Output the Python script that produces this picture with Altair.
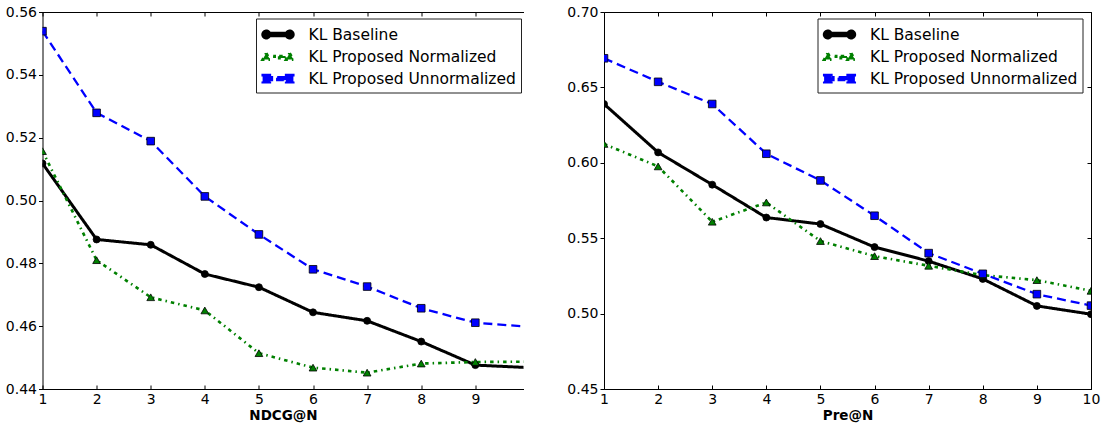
import altair as alt
import pandas as pd

# ---- data -------------------------------------------------------------
N_VALUES = [1, 2, 3, 4, 5, 6, 7, 8, 9, 10]
SERIES = ["KL Baseline", "KL Proposed Normalized", "KL Proposed Unnormalized"]

ndcg_baseline = [0.5118, 0.4876, 0.4859, 0.4766, 0.4724, 0.4644, 0.4617, 0.4551, 0.4476, 0.4468]
ndcg_normalized = [0.5157, 0.4810, 0.4692, 0.4650, 0.4514, 0.4468, 0.4452, 0.4481, 0.4486, 0.4487]
ndcg_unnormalized = [0.5539, 0.5279, 0.5189, 0.5013, 0.4892, 0.4781, 0.4726, 0.4657, 0.4611, 0.4598]

pre_baseline = [0.6390, 0.6069, 0.5855, 0.5637, 0.5594, 0.5441, 0.5348, 0.5230, 0.5051, 0.4996]
pre_normalized = [0.6125, 0.5976, 0.5609, 0.5737, 0.5481, 0.5381, 0.5317, 0.5255, 0.5222, 0.5151]
pre_unnormalized = [0.6693, 0.6537, 0.6390, 0.6060, 0.5883, 0.5649, 0.5401, 0.5264, 0.5129, 0.5053]

ndcg_y_ticks = [0.44, 0.46, 0.48, 0.50, 0.52, 0.54, 0.56]
pre_y_ticks = [0.45, 0.50, 0.55, 0.60, 0.65, 0.70]

# ---- styling ----------------------------------------------------------
COLORS = ["#000000", "#008000", "#0000ff"]
DASHES = [[1, 0], [3.5, 4, 1.5, 4], [9, 5]]
WIDTHS = [3.0, 2.3, 3.5]
MARKERS = [("circle", 49), ("triangle-up", 60), ("square", 58)]
FONT = "DejaVu Sans"
PLOT_H = 377


def circle(cx, r):
    return (f"M{cx - r},0 A{r},{r} 0 1,1 {cx + r},0 "
            f"A{r},{r} 0 1,1 {cx - r},0 Z ")


def triangle(cx):
    return f"M{cx},-0.4 L{cx + 0.37},0.25 L{cx - 0.37},0.25 Z "


def square(cx, h):
    return f"M{cx - h},{-h} L{cx + h},{-h} L{cx + h},{h} L{cx - h},{h} Z "


def bar(x0, x1, h):
    return f"M{x0},{-h} L{x1},{-h} L{x1},{h} L{x0},{h} Z "


# legend glyphs (1 unit = 10 px): a short line segment with a marker at each end
LEGEND_GLYPHS = [
    bar(-1.17, 1.17, 0.13) + circle(-1.17, 0.35) + circle(1.17, 0.35),
    triangle(-1.17) + bar(-0.48, -0.33, 0.1) + bar(0.12, 0.75, 0.1) + triangle(1.17),
    square(-1.17, 0.37) + bar(-0.8, -0.6, 0.15) + bar(-0.08, 0.8, 0.15) + square(1.17, 0.37),
]


def long_table(values):
    rows = []
    for name, vals in zip(SERIES, values):
        for n, v in zip(N_VALUES, vals):
            rows.append({"series": name, "N": n, "value": v})
    return pd.DataFrame(rows)


def panel(df, y_domain, y_ticks, x_max, width, x_title, right_edge):
    x_ticks = [n for n in N_VALUES if n <= x_max]
    x_scale = alt.Scale(domain=[1, x_max], nice=False, zero=False)
    y_scale = alt.Scale(domain=y_domain, nice=False, zero=False)
    color_scale = alt.Scale(domain=SERIES, range=COLORS)

    x_main = alt.X("N:Q", scale=x_scale, axis=alt.Axis(
        values=x_ticks, title=x_title, ticks=False, domain=True, grid=False,
        labelFlush=False, labelOverlap=False, labelPadding=3, titlePadding=2,
        format="d"))
    y_main = alt.Y("value:Q", scale=y_scale, axis=alt.Axis(
        values=y_ticks, title=None, ticks=True, tickSize=4, domain=True, grid=False,
        labelFlush=False, labelOverlap=False, labelPadding=2, format=".2f"))

    legend = alt.Legend(
        orient="none", legendX=213.5, legendY=6.5, title=None,
        symbolSize=400, symbolOffset=6, symbolStrokeColor="black", symbolStrokeWidth=0.5,
        symbolOpacity=1, labelFont=FONT, labelFontSize=15.5, labelColor="black",
        labelLimit=400, labelOffset=19, padding=4.5, rowPadding=1.6,
        strokeColor="#222222", fillColor="white", cornerRadius=0,
    )

    # invisible copy of the points that carries the legend
    legend_layer = alt.Chart(df).mark_point(filled=True, opacity=0).encode(
        x=alt.X("N:Q", scale=x_scale, axis=None),
        y=alt.Y("value:Q", scale=y_scale, axis=None),
        color=alt.Color("series:N", scale=color_scale, legend=legend),
        shape=alt.Shape("series:N", scale=alt.Scale(domain=SERIES, range=LEGEND_GLYPHS), legend=legend),
    )

    lines = alt.Chart(df).mark_line(clip=True).encode(
        x=x_main, y=y_main,
        color=alt.Color("series:N", scale=color_scale, legend=None),
        strokeDash=alt.StrokeDash("series:N", scale=alt.Scale(domain=SERIES, range=DASHES), legend=None),
        strokeWidth=alt.StrokeWidth("series:N", scale=alt.Scale(domain=SERIES, range=WIDTHS), legend=None),
    )

    layers = [legend_layer, lines]
    for name, (shape, size) in zip(SERIES, MARKERS):
        layers.append(
            alt.Chart(df).transform_filter(alt.datum.series == name)
            .mark_point(shape=shape, size=size, filled=True, opacity=1,
                        stroke="black", strokeWidth=0.8, clip=True)
            .encode(x=alt.X("N:Q", scale=x_scale, axis=None),
                    y=alt.Y("value:Q", scale=y_scale, axis=None),
                    color=alt.Color("series:N", scale=color_scale, legend=None))
        )

    # inward ticks along the bottom edge, right-edge frame with inward ticks
    right_axis = (alt.Axis(orient="left", offset=-width, values=y_ticks, labels=False,
                           title=None, ticks=True, tickSize=4, domain=True, grid=False)
                  if right_edge else None)
    frame_a = alt.Chart(df).transform_filter("false").mark_point().encode(
        x=alt.X("N:Q", scale=x_scale, axis=alt.Axis(
            orient="top", offset=-PLOT_H, values=x_ticks, labels=False, title=None,
            ticks=True, tickSize=4, domain=False, grid=False)),
        y=alt.Y("value:Q", scale=y_scale, axis=right_axis),
    )
    # top frame edge with inward ticks
    frame_b = alt.Chart(df).transform_filter("false").mark_point().encode(
        x=alt.X("N:Q", scale=x_scale, axis=alt.Axis(
            orient="bottom", offset=-PLOT_H, values=x_ticks, labels=False, title=None,
            ticks=True, tickSize=4, domain=True, grid=False)),
        y=alt.Y("value:Q", scale=y_scale, axis=None),
    )
    layers += [frame_a, frame_b]

    return (alt.layer(*layers)
            .resolve_axis(x="independent", y="independent")
            .properties(width=width, height=PLOT_H))


left = panel(long_table([ndcg_baseline, ndcg_normalized, ndcg_unnormalized]),
             [0.44, 0.56], ndcg_y_ticks, 9.89, 481, "NDCG@N", right_edge=False)
right = panel(long_table([pre_baseline, pre_normalized, pre_unnormalized]),
              [0.45, 0.70], pre_y_ticks, 10, 487, "Pre@N", right_edge=True)

chart = (
    alt.hconcat(left, right, spacing=31.5)
    .resolve_scale(color="independent", shape="independent",
                   strokeDash="independent", strokeWidth="independent")
    .properties(padding={"left": 4.5, "top": 5, "right": 5, "bottom": 5})
    .configure_view(stroke=None)
    .configure_axis(labelFont=FONT, labelFontSize=14, labelColor="black",
                    titleFont=FONT, titleFontSize=13.5, titleFontWeight="bold",
                    titleColor="black", domainColor="black", tickColor="black",
                    domainWidth=1, tickWidth=1)
)

chart.save("out.html", embed_options={"renderer": "svg", "actions": False})
